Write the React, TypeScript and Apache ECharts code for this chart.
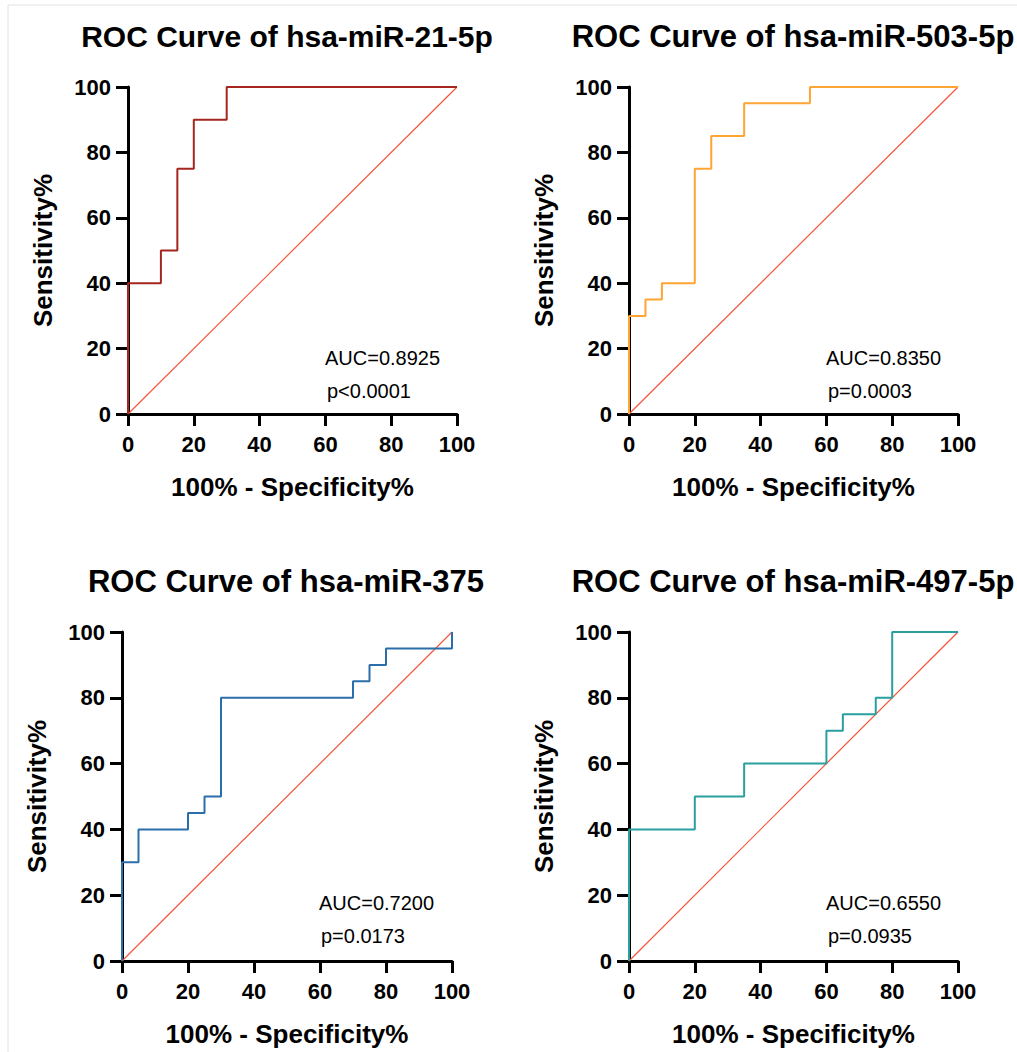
import { useEffect, useRef } from 'react';
import * as echarts from 'echarts';

const FONT = 'Arial, Liberation Sans, Helvetica, sans-serif';

// Corners of each step-shaped ROC curve: x = 100% - specificity%, y = sensitivity%
const fpr21 = [0, 0, 10, 10, 15, 15, 20, 20, 30, 30, 100];
const tpr21 = [0, 40, 40, 50, 50, 75, 75, 90, 90, 100, 100];

const fpr503 = [0, 0, 5, 5, 10, 10, 20, 20, 25, 25, 35, 35, 55, 55, 100];
const tpr503 = [0, 30, 30, 35, 35, 40, 40, 75, 75, 85, 85, 95, 95, 100, 100];

const fpr375 = [0, 0, 5, 5, 20, 20, 25, 25, 30, 30, 70, 70, 75, 75, 80, 80, 100, 100];
const tpr375 = [0, 30, 30, 40, 40, 45, 45, 50, 50, 80, 80, 85, 85, 90, 90, 95, 95, 100];

const fpr497 = [0, 0, 20, 20, 35, 35, 60, 60, 65, 65, 75, 75, 80, 80, 100];
const tpr497 = [0, 40, 40, 50, 50, 60, 60, 70, 70, 75, 75, 80, 80, 100, 100];

// Reference line of a random classifier
const chanceX = [0, 100];
const chanceY = [0, 100];

const titles = [
  'ROC Curve of hsa-miR-21-5p',
  'ROC Curve of hsa-miR-503-5p',
  'ROC Curve of hsa-miR-375',
  'ROC Curve of hsa-miR-497-5p',
];
const aucLabels = ['AUC=0.8925', 'AUC=0.8350', 'AUC=0.7200', 'AUC=0.6550'];
const pLabels = ['p<0.0001', 'p=0.0003', 'p=0.0173', 'p=0.0935'];
const curveColors = ['#A4261F', '#FFA533', '#2B6FAA', '#2A9FA0'];
const curvesX = [fpr21, fpr503, fpr375, fpr497];
const curvesY = [tpr21, tpr503, tpr375, tpr497];

const xName = '100% - Specificity%';
const yName = 'Sensitivity%';

// Plot-area placement of the four panels (pixels)
const grids = [
  { left: 128, top: 87, width: 329, height: 327 },
  { left: 629, top: 87, width: 329, height: 327 },
  { left: 122, top: 632, width: 330, height: 329 },
  { left: 629, top: 632, width: 329, height: 329 },
];
// Horizontal centre, top and size of each panel heading (pixels)
const titleCenters = [287, 793, 286, 793];
const titleTops = [16, 16, 561, 561];
const titleSizes = [30, 31, 31, 31];

const zip = (xs: number[], ys: number[]) => xs.map((x, i) => [x, ys[i]]);

function buildOption() {
  const axisCommon = {
    type: 'value',
    min: 0,
    max: 100,
    interval: 20,
    splitLine: { show: false },
    axisLine: { show: true, onZero: false, lineStyle: { color: '#000', width: 3 } },
    axisTick: { show: true, length: 12, lineStyle: { color: '#000', width: 3 } },
    axisLabel: {
      color: '#000',
      fontSize: 22,
      fontWeight: 'bold',
      fontFamily: FONT,
    },
    nameLocation: 'middle',
    nameTextStyle: {
      color: '#000',
      fontSize: 26,
      fontWeight: 'bold',
      fontFamily: FONT,
    },
  };

  const xAxis = grids.map((_, i) => ({
    ...axisCommon,
    gridIndex: i,
    name: xName,
    nameGap: 60,
    axisLabel: { ...axisCommon.axisLabel, margin: 19 },
  }));
  const yAxis = grids.map((_, i) => ({
    ...axisCommon,
    gridIndex: i,
    name: yName,
    nameGap: 72,
    axisLabel: { ...axisCommon.axisLabel, margin: 17 },
  }));

  const series: any[] = [];
  grids.forEach((_, i) => {
    series.push({
      type: 'line',
      xAxisIndex: i,
      yAxisIndex: i,
      data: zip(chanceX, chanceY),
      showSymbol: false,
      clip: false,
      silent: true,
      z: 2,
      lineStyle: { color: '#F4553A', width: 1.2, type: 'solid' },
    });
    series.push({
      type: 'line',
      xAxisIndex: i,
      yAxisIndex: i,
      data: zip(curvesX[i], curvesY[i]),
      showSymbol: false,
      clip: false,
      z: 3,
      lineStyle: { color: curveColors[i], width: 2 },
    });
  });

  const title = grids.map((_, i) => ({
    text: titles[i],
    left: titleCenters[i] - 5,
    top: titleTops[i],
    textAlign: 'center',
    textStyle: {
      color: '#000',
      fontSize: titleSizes[i],
      fontWeight: 'bold',
      fontFamily: FONT,
    },
  }));

  const statText: any[] = [];
  grids.forEach((g, i) => {
    statText.push({
      type: 'text',
      x: g.left + 197,
      y: g.top + 271,
      style: {
        text: aucLabels[i],
        fill: '#000',
        fontSize: 20,
        fontFamily: FONT,
        verticalAlign: 'middle',
      },
    });
    statText.push({
      type: 'text',
      x: g.left + 199,
      y: g.top + 304,
      style: {
        text: pLabels[i],
        fill: '#000',
        fontSize: 20,
        fontFamily: FONT,
        verticalAlign: 'middle',
      },
    });
  });

  // Faint frame along the top and left edges of the figure
  const frame = [
    { type: 'line', shape: { x1: 8, y1: 5, x2: 1017, y2: 5 }, style: { stroke: '#E2E2E2', lineWidth: 1 } },
    { type: 'line', shape: { x1: 8, y1: 5, x2: 8, y2: 1052 }, style: { stroke: '#E2E2E2', lineWidth: 1 } },
  ];

  return {
    animation: false,
    backgroundColor: '#fff',
    title,
    grid: grids.map((g) => ({ ...g, containLabel: false })),
    xAxis,
    yAxis,
    series,
    graphic: [...frame, ...statText],
  };
}

export default function App() {
  const ref = useRef<HTMLDivElement>(null);
  useEffect(() => {
    document.body.style.margin = '0';
    if (!ref.current) return;
    const chart = echarts.init(ref.current, undefined, { renderer: 'svg' });
    chart.setOption(buildOption() as any);
    return () => chart.dispose();
  }, []);
  return <div ref={ref} style={{ width: 1017, height: 1052 }} />;
}
